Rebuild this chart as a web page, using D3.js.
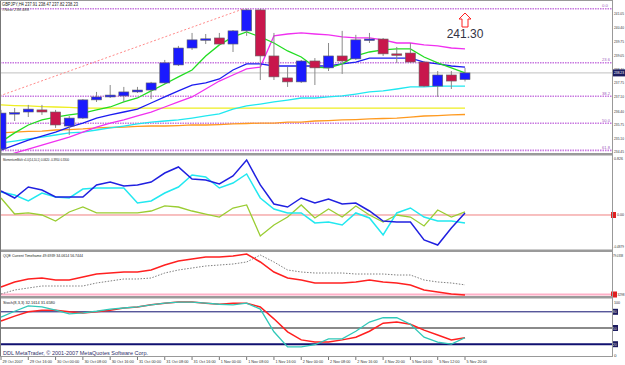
<!DOCTYPE html>
<html>
<head>
<meta charset="utf-8">
<script src="https://d3js.org/d3.v7.min.js"></script>
<style>
body { margin: 0; background: #fff; }
svg { display: block; font-family: "Liberation Sans", Arial, sans-serif; }
</style>
</head>
<body>
<script>
// GBPJPY H4, bars from 29 Oct 08:00 to 5 Nov 20:00
var opens  = [234.59,236.27,236.36,236.46,236.36,235.69,236.07,236.94,237.08,237.13,237.32,237.41,237.75,238.61,239.42,239.83,239.90,239.61,240.24,241.24,239.04,237.99,237.80,238.80,238.47,239.04,238.90,239.81,239.85,239.14,239.18,238.75,237.60,238.13,237.91];
var highs  = [236.46,236.55,236.70,236.70,236.46,236.17,236.98,237.32,237.65,237.56,237.56,237.80,238.85,239.52,240.14,240.09,240.14,240.28,241.30,241.30,240.14,238.51,238.85,238.94,239.66,240.24,240.05,240.14,239.90,239.47,239.66,238.80,238.32,238.32,238.47];
var lows   = [234.40,235.93,236.12,236.22,235.60,235.26,236.03,236.84,237.03,236.84,237.27,236.98,237.70,238.56,239.33,239.61,239.57,239.23,240.00,237.89,237.89,237.56,237.75,237.65,238.32,238.18,238.85,239.66,239.04,238.71,238.71,237.56,237.08,237.46,237.82];
var closes = [236.31,236.33,236.50,236.36,235.74,236.07,236.94,237.08,237.17,237.32,237.41,237.75,238.71,239.42,239.81,239.86,239.61,240.24,241.24,239.04,238.04,237.80,238.80,238.47,239.04,238.80,239.81,239.85,239.14,239.11,238.75,237.60,238.13,237.84,238.23];

var maGreen   = [234.93,235.36,235.74,235.98,236.12,236.22,236.31,236.46,236.60,236.84,237.03,237.37,237.70,238.04,238.37,239.04,239.57,239.95,240.19,239.95,239.66,239.28,238.99,238.51,238.47,238.66,239.04,239.23,239.33,239.38,239.38,238.99,238.71,238.47,238.23];
var maBlue    = [234.54,234.78,235.02,235.21,235.40,235.64,235.83,236.07,236.22,236.36,236.50,236.79,237.08,237.37,237.65,237.75,237.94,238.37,238.66,238.66,238.56,238.56,238.56,238.56,238.56,238.66,238.75,238.94,238.94,238.94,238.94,238.75,238.66,238.56,238.51];
var maMagenta = [234.16,234.40,234.59,234.78,234.97,235.16,235.40,235.64,235.83,235.98,236.17,236.36,236.60,236.84,237.08,237.46,237.84,238.13,238.42,238.51,240.00,240.09,240.14,240.09,240.05,239.95,239.90,239.90,239.81,239.66,239.66,239.57,239.52,239.42,239.38];
var maCyan    = [234.88,234.97,235.07,235.16,235.26,235.36,235.40,235.50,235.60,235.69,235.79,235.88,235.93,235.98,236.07,236.17,236.27,236.50,236.65,236.74,236.84,236.93,237.03,237.03,237.08,237.13,237.22,237.32,237.37,237.46,237.56,237.56,237.60,237.60,237.60];
var maYellow  = [236.70,236.67,236.65,236.62,236.60,236.58,236.55,236.55,236.55,236.55,236.55,236.55,236.55,236.55,236.55,236.55,236.55,236.55,236.55,236.55,236.55,236.55,236.55,236.55,236.55,236.55,236.55,236.55,236.55,236.55,236.55,236.55,236.55,236.55,236.55];
var maOrange  = [235.36,235.40,235.43,235.45,235.50,235.52,235.55,235.60,235.62,235.64,235.67,235.69,235.69,235.71,235.74,235.74,235.76,235.79,235.81,235.83,235.83,235.88,235.88,235.93,235.95,235.98,236.00,236.03,236.05,236.07,236.12,236.17,236.19,236.22,236.24];

var momBlue  = [0.343,0.243,0.400,0.357,0.257,0.257,0.257,0.429,0.471,0.414,0.429,0.471,0.600,0.686,0.514,0.500,0.443,0.557,0.786,0.429,0.157,0.114,0.243,0.171,0.229,0.157,0.171,0.057,-0.086,-0.100,-0.100,-0.357,-0.429,-0.186,0.029];
var momCyan  = [0.329,0.286,0.200,0.314,0.257,0.243,0.371,0.386,0.386,0.386,0.171,0.200,0.314,0.400,0.571,0.543,0.386,0.457,0.586,0.243,0.086,0.029,0.029,-0.114,-0.100,-0.143,0.029,-0.043,-0.286,0.029,0.100,-0.029,-0.086,-0.086,-0.114];
var momOlive = [0.243,0.014,0.029,0.000,-0.086,0.043,0.114,0.029,0.029,0.029,0.029,0.057,0.129,0.114,0.057,0.014,-0.029,0.100,0.143,-0.300,-0.143,-0.029,0.143,-0.043,0.086,-0.029,0.129,0.000,-0.100,0.000,-0.029,-0.157,0.071,-0.029,0.043];

var qqeRsi   = [55.23,58.73,60.83,61.53,60.13,60.13,62.23,64.33,65.03,65.73,65.73,67.13,70.63,73.43,74.83,76.23,76.23,76.93,78.33,72.73,65.73,61.53,60.13,58.03,58.03,58.03,58.73,60.13,58.73,58.03,56.63,53.13,51.73,50.33,49.69];
var qqeTrail = [50.33,53.13,54.53,55.93,55.93,55.93,55.93,58.03,59.43,60.83,60.83,61.53,65.03,67.13,68.53,69.93,70.63,71.33,72.73,77.63,72.73,67.13,65.73,65.03,65.03,65.03,64.33,64.33,64.33,63.63,63.63,60.13,58.73,58.03,56.74];

var stochMain   = [70,81,91,89,83,76,78,81,85,87,89,93,96,98,98,96,94,93,96,85,43,15,15,19,30,30,44,61,69,69,57,33,24,20,32];
var stochSignal = [63,72,80,83,83,80,78,80,83,87,89,93,96,98,98,96,94,96,96,89,67,43,28,24,24,28,33,44,59,61,57,46,37,28,32];

var priceTicks = ["241.05","240.40","239.75","239.05","238.40","237.75","237.10","236.40","235.75","235.10","234.45"];
var timeLabels = ["29 Oct 2007","29 Oct 16:00","30 Oct 00:00","30 Oct 08:00","30 Oct 16:00","31 Oct 00:00","31 Oct 08:00","31 Oct 16:00","1 Nov 00:00","1 Nov 08:00","1 Nov 16:00","2 Nov 00:00","2 Nov 08:00","2 Nov 16:00","4 Nov 20:00","5 Nov 04:00","5 Nov 12:00","5 Nov 20:00"];
var fibLevels = [0, 23.6, 38.2, 50.0, 61.8];
var fibHigh = 241.30, fibLow = 230.34;
var stochLevels = [80, 50, 20];

var W = 625, H = 365, R = 612;

var svg = d3.select("body").append("svg")
    .attr("width", W)
    .attr("height", H);

svg.append("rect").attr("width", W).attr("height", H).attr("fill", "#fff");

var x = d3.scaleLinear().domain([0, 34]).range([1, 465]);
var yP = d3.scaleLinear().domain([234.40, 241.62]).range([153, 2]);
var yM = d3.scaleLinear().domain([-0.486, 0.843]).range([249, 156]);
var yQ = d3.scaleLinear().domain([48.93, 79.03]).range([296, 253]);
var yS = d3.scaleLinear().domain([0, 100]).range([355, 301]);

function clip(id, y0, y1) {
    svg.append("clipPath").attr("id", id)
        .append("rect").attr("x", 0).attr("y", y0).attr("width", R).attr("height", y1 - y0);
    return svg.append("g").attr("clip-path", "url(#" + id + ")");
}

function drawLine(g, data, ys, color, w, dash) {
    var line = d3.line().x(function(d, i) { return x(i); }).y(function(d) { return ys(d); });
    g.append("path").datum(data)
        .attr("d", line)
        .attr("fill", "none")
        .attr("stroke", color)
        .attr("stroke-width", w)
        .attr("stroke-dasharray", dash || null);
}

function hline(g, y, color, w, dash) {
    g.append("line").attr("x1", 0).attr("x2", R).attr("y1", y).attr("y2", y)
        .attr("stroke", color).attr("stroke-width", w)
        .attr("stroke-dasharray", dash || null);
}

// small squeezed text, like the screen font scaled down
function label(px, py, t, len, color, size) {
    return svg.append("text").attr("x", px).attr("y", py)
        .attr("font-size", size || 4.2)
        .attr("fill", color || "#333")
        .attr("textLength", len)
        .attr("lengthAdjust", "spacingAndGlyphs")
        .text(t);
}

// ---------- main price pane ----------
var main = clip("cMain", 1, 153);

fibLevels.forEach(function(f) {
    var p = fibHigh - (fibHigh - fibLow) * f / 100;
    hline(main, yP(p), "#c878e0", 1.6, "1.5,1");
    label(602, yP(p) - 1.5, f.toFixed(1), f == 0 ? 6 : 8, "#a060c0", 3.8);
});

hline(main, yP(closes[34]), "#c0c0c0", 1);

// trendline to the high
main.append("line")
    .attr("x1", x(-0.1)).attr("y1", yP(237.13))
    .attr("x2", x(17.8)).attr("y2", yP(fibHigh))
    .attr("stroke", "#ff8a8a").attr("stroke-width", 1).attr("stroke-dasharray", "2,2");

drawLine(main, maOrange, yP, "#ff9a20", 1.3);
drawLine(main, maYellow, yP, "#eeee20", 1.3);
drawLine(main, maCyan, yP, "#20e8f0", 1.3);
drawLine(main, maMagenta, yP, "#f030f0", 1.3);
drawLine(main, maBlue, yP, "#1c1cf0", 1.3);
drawLine(main, maGreen, yP, "#22dd22", 1.3);

var bw = 10;
closes.forEach(function(c, i) {
    var o = opens[i];
    main.append("line")
        .attr("x1", x(i)).attr("x2", x(i))
        .attr("y1", yP(highs[i])).attr("y2", yP(lows[i]))
        .attr("stroke", "#8a8a8a").attr("stroke-width", 1);
    var top = yP(Math.max(o, c)), bot = yP(Math.min(o, c));
    main.append("rect")
        .attr("x", x(i) - bw / 2).attr("y", top)
        .attr("width", bw).attr("height", Math.max(1.5, bot - top))
        .attr("fill", c >= o ? "#1a1aff" : "#c8174c")
        .attr("stroke", "#666").attr("stroke-width", 0.6);
});

// annotation of the high
var ax = x(34);
svg.append("path")
    .attr("d", "M" + ax + ",13 L" + (ax + 6) + ",19 L" + (ax + 3) + ",19 L" + (ax + 3) + ",27 L" + (ax - 3) + ",27 L" + (ax - 3) + ",19 L" + (ax - 6) + ",19 Z")
    .attr("fill", "#fff").attr("stroke", "#ff2020").attr("stroke-width", 1);
svg.append("text").attr("x", ax).attr("y", 38).attr("text-anchor", "middle")
    .attr("font-size", 12).attr("fill", "#333344").text(fibHigh.toFixed(2));

label(2, 5.5, "GBPJPY,H4 237.91 238.47 237.82 238.23", 76, "#222", 4.5);
label(2, 10.5, "#Now 238.488", 27, "#444", 4.2);

priceTicks.forEach(function(t) {
    label(614, yP(+t) + 1.5, t, 10, "#333", 3.8);
});
svg.append("rect").attr("x", 613).attr("y", yP(closes[34]) - 3.5).attr("width", 12).attr("height", 7).attr("fill", "#1c1c60");
label(614, yP(closes[34]) + 1.5, closes[34].toFixed(2), 10, "#fff", 3.8);

// ---------- momentum pane ----------
var mom = clip("cMom", 156, 249);
hline(mom, yM(0), "#f08080", 1);
drawLine(mom, momOlive, yM, "#9acd32", 1.3);
drawLine(mom, momCyan, yM, "#22e8f0", 1.5);
drawLine(mom, momBlue, yM, "#2020e0", 1.5);
label(3, 160.5, "MomentumMulti v1.0(14,10,1) 0.0620 -0.3950 0.3300", 66, "#222", 4);
label(614, 159.5, "0.826", 9, "#333", 3.8);
svg.append("rect").attr("x", 611).attr("y", yM(0) - 3).attr("width", 5).attr("height", 6).attr("fill", "#e02020");
label(617, yM(0) + 1.5, "0.00", 7, "#333", 3.8);
label(613.5, 248, "-0.4879", 10.5, "#333", 3.8);

// ---------- QQE pane ----------
var qqe = clip("cQqe", 252, 296);
hline(qqe, 294.5, "#ffb0c8", 2);
drawLine(qqe, qqeTrail, yQ, "#808080", 1, "1.5,1.5");
drawLine(qqe, qqeRsi, yQ, "#ff2020", 1.5);
label(3, 257, "QQE Current Timeframe 49.6939 34.0614 56.7444", 80, "#222", 4);
label(613, 256.5, "79.0338", 10, "#333", 3.8);
svg.append("rect").attr("x", 611).attr("y", 291.5).attr("width", 6).attr("height", 6).attr("fill", "#e02020");
label(617.5, 296, "3298", 7, "#333", 3.8);

// ---------- stochastic pane ----------
var sto = clip("cSto", 299, 356);
stochLevels.forEach(function(l) {
    hline(sto, yS(l), l == 50 ? "#8a8a8a" : "#101070", l == 80 ? 1 : 2);
    svg.append("rect").attr("x", 612).attr("y", yS(l) - 3).attr("width", 6).attr("height", 6).attr("fill", "#1c1c60");
    label(612.8, yS(l) + 1.5, String(l), 4, "#ddd", 3.6);
});
drawLine(sto, stochSignal, yS, "#ff2020", 1.5);
drawLine(sto, stochMain, yS, "#30c8b8", 1.3);
label(3, 303.5, "Stoch(8,3,3) 32.1614 31.6580", 52, "#222", 4);
label(614, 303.5, "100", 6, "#333", 3.8);
label(614, 357, "0", 2.5, "#333", 3.8);
label(3, 355, "DDL MetaTrader, \u00a9 2001-2007 MetaQuotes Software Corp.", 145, "#30306a", 5.5);

// ---------- separators and frame ----------
[153, 249.5, 296].forEach(function(y) {
    svg.append("rect").attr("x", 0).attr("y", y).attr("width", R).attr("height", 2.5).attr("fill", "#9a9a9a");
});
svg.append("line").attr("x1", 0.5).attr("x2", 0.5).attr("y1", 0).attr("y2", 356).attr("stroke", "#777");
svg.append("line").attr("x1", 0).attr("x2", R).attr("y1", 0.5).attr("y2", 0.5).attr("stroke", "#999");
svg.append("line").attr("x1", R + 0.5).attr("x2", R + 0.5).attr("y1", 0).attr("y2", 357).attr("stroke", "#999");
svg.append("line").attr("x1", 0).attr("x2", R).attr("y1", 356.5).attr("y2", 356.5).attr("stroke", "#999");

// ---------- time axis ----------
timeLabels.forEach(function(t, k) {
    var xi = x(k * 2);
    svg.append("line").attr("x1", xi).attr("x2", xi).attr("y1", 357).attr("y2", 360).attr("stroke", "#777");
    label(xi + 1.5, 363, t, t.length * 1.85, "#333", 4.2);
});
</script>
</body>
</html>
